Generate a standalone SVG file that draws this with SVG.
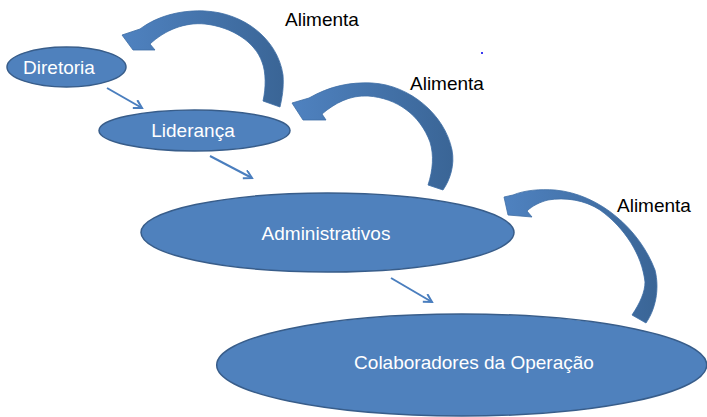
<svg xmlns="http://www.w3.org/2000/svg" width="707" height="417" viewBox="0 0 707 417">
<style>
.node ellipse{fill:#4F81BD;stroke:#385D8A;stroke-width:1.5}
.node text{fill:#FFFFFF;font-family:"Liberation Sans",Arial,sans-serif;font-size:19px;text-anchor:middle}
.lbl{fill:#000000;font-family:"Liberation Sans",Arial,sans-serif;font-size:19px}
.feed{fill:url(#g);stroke:#3E6DA5;stroke-width:0.8}
.flow{fill:none;stroke:#4A7EBE;stroke-width:2;marker-end:url(#v)}
</style>
<defs>
<linearGradient id="g" x1="0" y1="0" x2="1" y2="0">
<stop offset="0" stop-color="#4F82C0"/>
<stop offset="1" stop-color="#3A6596"/>
</linearGradient>
<marker id="v" markerWidth="12" markerHeight="12" refX="9" refY="5" orient="auto" markerUnits="userSpaceOnUse">
<path d="M1,0.5 L9,5 L1,9.5" fill="none" stroke="#4A7EBE" stroke-width="2"/>
</marker>
</defs>
<g id="connectors">
<path class="flow" d="M107,88 L142,108"/>
<path class="flow" d="M210,156 L252,178"/>
<path class="flow" d="M391,278 L432,302"/>
<path class="feed" d="M140,29 C160,14 185,10 205,11 C245,13 278,40 283,75 C284,88 282,98 280,107 L263,101 C266,88 266,72 262,62 C255,42 232,27 205,24 C185,22 165,30 150,44 L155,50 L133,50 L122,35 Z"/>
<path class="feed" d="M309,98 C330,86 350,82 372,83 C410,85 445,115 452,150 C455,165 450,180 443,190 L428,185 C433,170 434,155 430,142 C420,115 397,98 368,96 C350,95 335,103 322,114 L326,120 L303,120 L292,103 Z"/>
<path class="feed" d="M513,195 C525,190 540,189 555,190 C600,194 640,230 655,270 C660,290 655,310 646,323 L632,315 C640,303 645,292 645,282 C642,255 625,228 600,210 C585,200 565,197 548,200 C540,202 532,206 527,211 L532,217 L508,215 L504,197 Z"/>
<text class="lbl" x="285" y="26">Alimenta</text>
<text class="lbl" x="410" y="90">Alimenta</text>
<text class="lbl" x="617" y="212">Alimenta</text>
</g>
<g id="diretoria" class="node">
<ellipse cx="66.5" cy="67" rx="59.5" ry="20"/>
<text x="59" y="74">Diretoria</text>
</g>
<g id="lideranca" class="node">
<ellipse cx="194.5" cy="130.5" rx="95.5" ry="20.5"/>
<text x="193" y="137">Liderança</text>
</g>
<g id="administrativos" class="node">
<ellipse cx="327.5" cy="232.5" rx="186.5" ry="39.5"/>
<text x="326" y="240">Administrativos</text>
</g>
<g id="colaboradores" class="node">
<ellipse cx="461.7" cy="365" rx="245" ry="51"/>
<text x="474" y="369">Colaboradores da Operação</text>
</g>
<rect x="481" y="52" width="2" height="2" fill="#3A3AF0"/>
</svg>
